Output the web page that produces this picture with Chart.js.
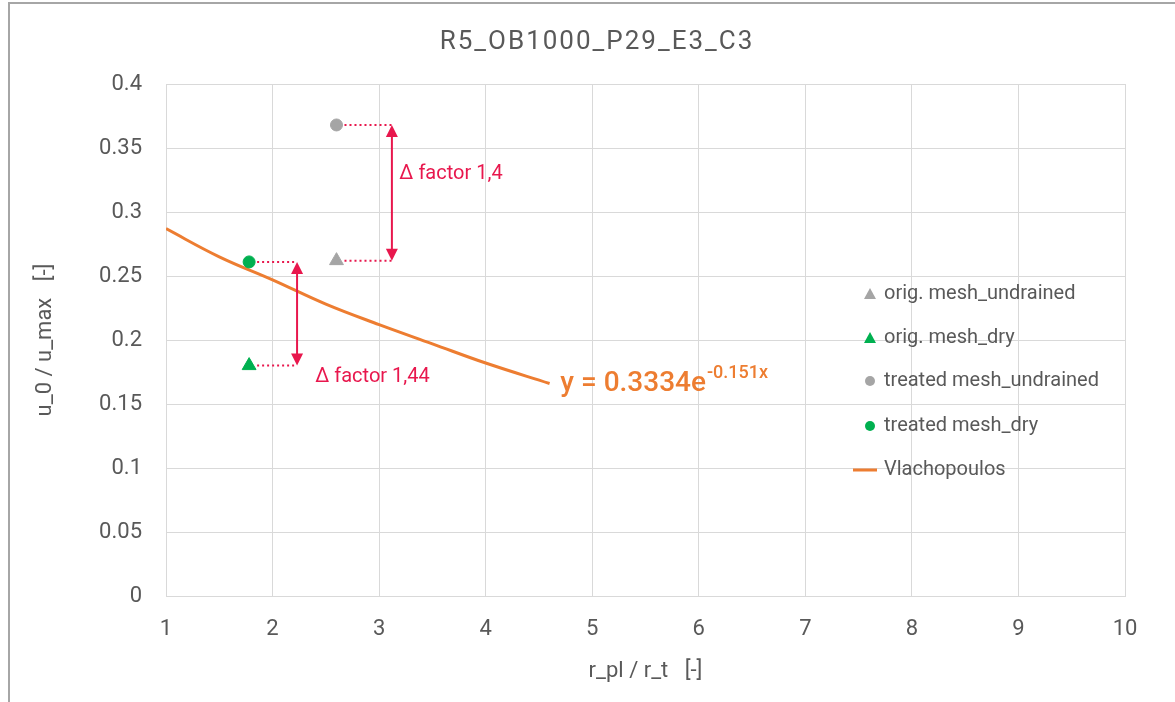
<!DOCTYPE html>
<html>
<head>
<meta charset="utf-8">
<script src="https://cdn.jsdelivr.net/npm/chart.js@4"></script>
<style>
  html, body { margin: 0; padding: 0; background: #fff; overflow: hidden; }
  #wrap { position: relative; width: 1175px; height: 702px; }
  #frame { position: absolute; left: 8px; top: 2px; width: 1200px; height: 740px;
           border: 2px solid #a6a6a6; box-sizing: border-box; pointer-events: none; }
</style>
</head>
<body>
<div id="wrap">
  <canvas id="chart" width="1175" height="702"></canvas>
  <div id="frame"></div>
</div>
<script>
// Data
const origUndrained = [{ x: 2.6, y: 0.262 }];
const origDry = [{ x: 1.78, y: 0.180 }];
const treatedUndrained = [{ x: 2.6, y: 0.368 }];
const treatedDry = [{ x: 1.78, y: 0.261 }];

// Vlachopoulos trend line, values read at these x positions
const trendX = [1, 1.5, 2, 2.5, 3, 3.5, 4, 4.6];
const trendY = [0.287, 0.265, 0.247, 0.228, 0.212, 0.197, 0.182, 0.166];

// Delta annotations (data coordinates)
const deltaArrowX = [3.12, 2.23];
const deltaTop = [0.368, 0.261];
const deltaBottom = [0.262, 0.180];
const deltaFromX = [2.6, 1.78];
const deltaLabels = ['Δ factor 1,4', 'Δ factor 1,44'];
const deltaLabelPos = [{ x: 3.19, y: 0.330 }, { x: 2.40, y: 0.171 }];

const legendLabels = ['orig. mesh_undrained', 'orig. mesh_dry', 'treated mesh_undrained', 'treated mesh_dry', 'Vlachopoulos'];
const chartTitle = 'R5_OB1000_P29_E3_C3';

const GREY = '#a5a5a5';
const GREEN = '#00b050';
const ORANGE = '#ed7d31';
const RED = '#e8174d';
const TEXT = '#595959';
const FONT = 'Roboto, "Open Sans", sans-serif';

// draws title, arrows, dotted leaders, equation and the legend inside the plot
const annotations = {
  id: 'annotations',
  afterDatasetsDraw(chart) {
    const ctx = chart.ctx;
    const xs = chart.scales.x, ys = chart.scales.y;
    ctx.save();

    // title
    ctx.fillStyle = TEXT;
    ctx.font = '26px ' + FONT;
    ctx.letterSpacing = '2px';
    ctx.textAlign = 'center';
    ctx.textBaseline = 'middle';
    ctx.fillText(chartTitle, 597, 42);
    ctx.letterSpacing = '0px';

    for (let i = 0; i < deltaArrowX.length; i++) {
      const ax = xs.getPixelForValue(deltaArrowX[i]);
      const fx = xs.getPixelForValue(deltaFromX[i]) + 8;
      const yt = ys.getPixelForValue(deltaTop[i]);
      const yb = ys.getPixelForValue(deltaBottom[i]);

      // dotted leaders
      ctx.strokeStyle = RED;
      ctx.lineWidth = 2;
      ctx.setLineDash([2, 3]);
      ctx.beginPath();
      ctx.moveTo(fx, yt); ctx.lineTo(ax, yt);
      ctx.moveTo(fx, yb); ctx.lineTo(ax, yb);
      ctx.stroke();

      // double arrow
      ctx.setLineDash([]);
      ctx.beginPath();
      ctx.moveTo(ax, yt + 10); ctx.lineTo(ax, yb - 10);
      ctx.stroke();
      ctx.fillStyle = RED;
      ctx.beginPath();
      ctx.moveTo(ax, yt); ctx.lineTo(ax - 6, yt + 12); ctx.lineTo(ax + 6, yt + 12); ctx.closePath();
      ctx.fill();
      ctx.beginPath();
      ctx.moveTo(ax, yb); ctx.lineTo(ax - 6, yb - 12); ctx.lineTo(ax + 6, yb - 12); ctx.closePath();
      ctx.fill();

      // label
      ctx.font = '20px ' + FONT;
      ctx.textBaseline = 'middle';
      ctx.textAlign = 'left';
      ctx.fillText(deltaLabels[i], xs.getPixelForValue(deltaLabelPos[i].x), ys.getPixelForValue(deltaLabelPos[i].y));
    }

    // trend equation
    const ex = xs.getPixelForValue(4.7);
    const ey = ys.getPixelForValue(0.160);
    ctx.fillStyle = ORANGE;
    ctx.textAlign = 'left';
    ctx.textBaseline = 'alphabetic';
    ctx.font = '500 28px ' + FONT;
    const base = 'y = 0.3334e';
    ctx.fillText(base, ex, ey);
    const w = ctx.measureText(base).width;
    ctx.font = '500 18px ' + FONT;
    ctx.fillText('-0.151x', ex + w + 1, ey - 13);

    // legend
    const lx = 870;
    const ly = [294, 338, 381, 426, 470];
    ctx.font = '20px ' + FONT;
    ctx.textBaseline = 'middle';
    for (let i = 0; i < legendLabels.length; i++) {
      const y = ly[i];
      const col = (i === 1 || i === 3) ? GREEN : (i === 4 ? ORANGE : GREY);
      ctx.fillStyle = col;
      if (i < 2) {
        ctx.beginPath();
        ctx.moveTo(lx, y - 6); ctx.lineTo(lx - 6, y + 5); ctx.lineTo(lx + 6, y + 5); ctx.closePath();
        ctx.fill();
      } else if (i < 4) {
        ctx.beginPath();
        ctx.arc(lx, y, 5, 0, Math.PI * 2);
        ctx.fill();
      } else {
        ctx.fillRect(lx - 17, y - 1.5, 24, 3);
      }
      ctx.fillStyle = TEXT;
      ctx.fillText(legendLabels[i], lx + 14, y);
    }
    ctx.restore();
  }
};

const ctx = document.getElementById('chart').getContext('2d');
new Chart(ctx, {
  type: 'scatter',
  data: {
    datasets: [
      { label: legendLabels[0], data: origUndrained, pointStyle: 'triangle', radius: 8,
        backgroundColor: GREY, borderColor: GREY },
      { label: legendLabels[1], data: origDry, pointStyle: 'triangle', radius: 8,
        backgroundColor: GREEN, borderColor: GREEN },
      { label: legendLabels[2], data: treatedUndrained, pointStyle: 'circle', radius: 6,
        backgroundColor: GREY, borderColor: GREY },
      { label: legendLabels[3], data: treatedDry, pointStyle: 'circle', radius: 6,
        backgroundColor: GREEN, borderColor: GREEN },
      { label: legendLabels[4], type: 'line',
        data: trendX.map((x, i) => ({ x: x, y: trendY[i] })),
        borderColor: ORANGE, borderWidth: 3, pointRadius: 0, tension: 0.4, fill: false }
    ]
  },
  options: {
    responsive: false,
    animation: false,
    layout: { padding: { left: 0, right: 50, top: 84, bottom: 0 } },
    plugins: {
      legend: { display: false },
      tooltip: { enabled: false },
      title: { display: false }
    },
    scales: {
      x: {
        type: 'linear', min: 1, max: 10,
        ticks: { stepSize: 1, color: TEXT, font: { family: FONT, size: 22 }, padding: 20, maxRotation: 0 },
        grid: { color: '#d9d9d9', lineWidth: 1, drawTicks: false },
        border: { color: '#d9d9d9' },
        title: { display: true, text: 'r_pl / r_t   [-]', color: TEXT,
                 font: { family: FONT, size: 22 }, padding: { top: 0, bottom: 17 } },
        afterFit(scale) { scale.height = 106; }
      },
      y: {
        type: 'linear', min: 0, max: 0.4,
        ticks: { stepSize: 0.05, color: TEXT, font: { family: FONT, size: 22 }, padding: 24,
                 callback: v => String(Number(v.toFixed(2))) },
        grid: { color: '#d9d9d9', lineWidth: 1, drawTicks: false },
        border: { color: '#d9d9d9' },
        title: { display: true, text: 'u_0 / u_max   [-]', color: TEXT,
                 font: { family: FONT, size: 22 }, padding: { top: 32, bottom: 0 } },
        afterFit(scale) { scale.width = 166; }
      }
    }
  },
  plugins: [annotations]
});
</script>
</body>
</html>
